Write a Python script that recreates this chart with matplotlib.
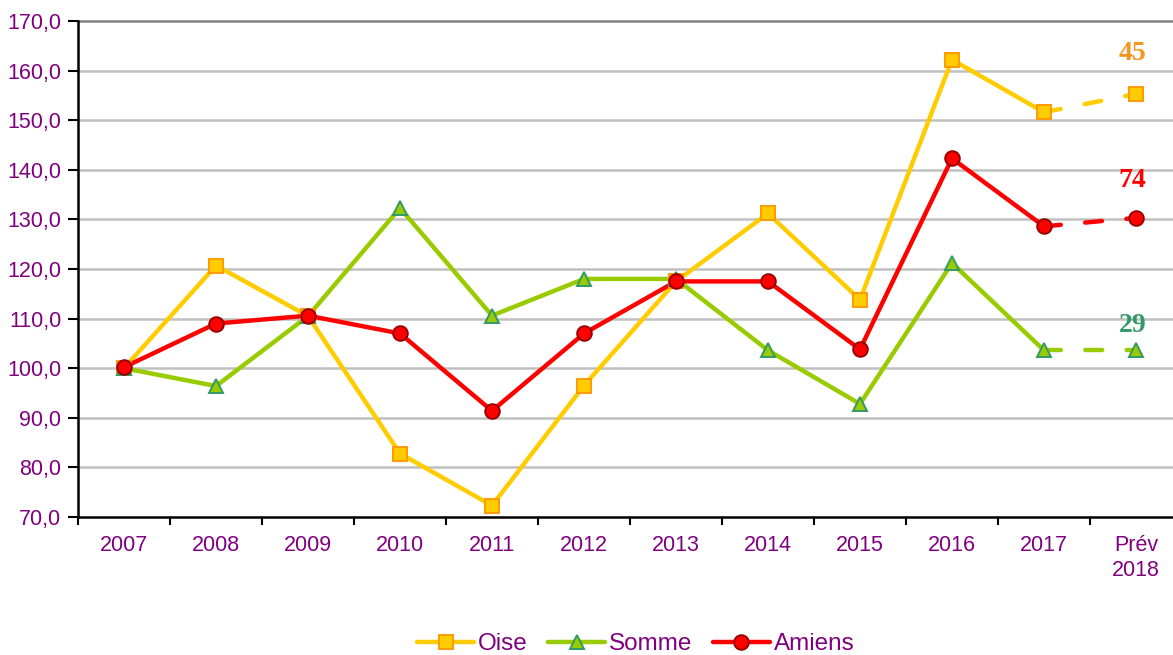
import matplotlib
matplotlib.use("Agg")
import matplotlib.pyplot as plt
from matplotlib.ticker import FixedLocator, FuncFormatter
from matplotlib.lines import Line2D

categories = ["2007", "2008", "2009", "2010", "2011", "2012", "2013", "2014",
              "2015", "2016", "2017", "Prév\n2018"]
oise = [100.0, 120.7, 110.5, 82.8, 72.3, 96.5, 117.5, 131.2, 113.8, 162.2, 151.6, 155.3]
somme = [100.0, 96.4, 110.5, 132.3, 110.6, 118.0, 118.0, 103.6, 92.8, 121.2, 103.6, 103.6]
amiens = [100.2, 109.0, 110.6, 107.0, 91.4, 107.0, 117.5, 117.5, 103.8, 142.3, 128.6, 130.3]
end_labels = ["45", "74", "29"]

purple = "#800080"
plt.rcParams['font.family'] = ['Liberation Sans', 'DejaVu Sans']

fig = plt.figure(figsize=(11.73, 6.55), dpi=100)
ax = fig.add_axes([78/1173, 1-517/655, 1104/1173, 496/655])

x = list(range(len(categories)))
LW = 3.2
styles = [
    (oise, "#FFCC00", "s", "#FFCC00", "#FF9900", 9.5, "Oise"),
    (somme, "#99CC00", "^", "#99CC00", "#339966", 9.5, "Somme"),
    (amiens, "#FF0000", "o", "#FF0000", "#990000", 10.5, "Amiens"),
]
handles = []
for vals, col, mk, fc, ec, ms, name in styles:
    ax.plot(x[:-1], vals[:-1], color=col, lw=LW, solid_capstyle="round",
            solid_joinstyle="round", zorder=3)
    ax.plot(x[-2:], vals[-2:], color=col, lw=LW, dashes=(3.8, 5.5),
            dash_capstyle="round", zorder=3)
    ax.plot(x, vals, ls="none", marker=mk, ms=ms, mfc=fc, mec=ec, mew=1.4, zorder=4)
    handles.append(Line2D([], [], color=col, lw=LW, marker=mk, ms=ms, mfc=fc,
                          mec=ec, mew=1.4, solid_capstyle="round", label=name))

label_cols = ["#F7941D", "#FF0000", "#339966"]
label_y = [163.4, 137.8, 108.6]
for txt, c, yy in zip(end_labels, label_cols, label_y):
    ax.text(x[-1] - 0.04, yy, txt, color=c, fontsize=20, fontweight="bold",
            family="Liberation Serif", ha="center", va="center", zorder=5)

ax.set_xlim(-0.5, 11.5)
ax.set_ylim(70, 170)
ax.set_yticks(range(70, 171, 10))
ax.yaxis.set_major_formatter(FuncFormatter(lambda v, p: f"{v:.1f}".replace(".", ",")))
ax.set_xticks(x)
ax.set_xticklabels(categories, linespacing=1.25)
ax.xaxis.set_minor_locator(FixedLocator([i - 0.5 for i in range(len(categories) + 1)]))
ax.tick_params(axis="x", which="major", length=0, pad=13, labelsize=15.5, labelcolor=purple)
ax.tick_params(axis="x", which="minor", length=6, width=1.5, direction="out", color="black")
ax.tick_params(axis="y", length=7, width=1.5, direction="out", color="black",
               labelsize=15.5, labelcolor=purple, pad=5)

for v in range(80, 170, 10):
    ax.axhline(v, color="#C0C0C0", lw=1.8, zorder=1)
ax.axhline(170, color="#808080", lw=1.8, zorder=1, clip_on=False)

for s in ["top", "right"]:
    ax.spines[s].set_visible(False)
for s in ["left", "bottom"]:
    ax.spines[s].set_linewidth(1.8)
    ax.spines[s].set_color("black")

fig.legend(handles=handles, loc="lower center", bbox_to_anchor=(0.542, -0.034), ncol=3,
           frameon=False, fontsize=17.5, handlelength=2.35, handletextpad=0.17,
           columnspacing=0.82, labelcolor=purple)

fig.savefig("out.png", dpi=100)
